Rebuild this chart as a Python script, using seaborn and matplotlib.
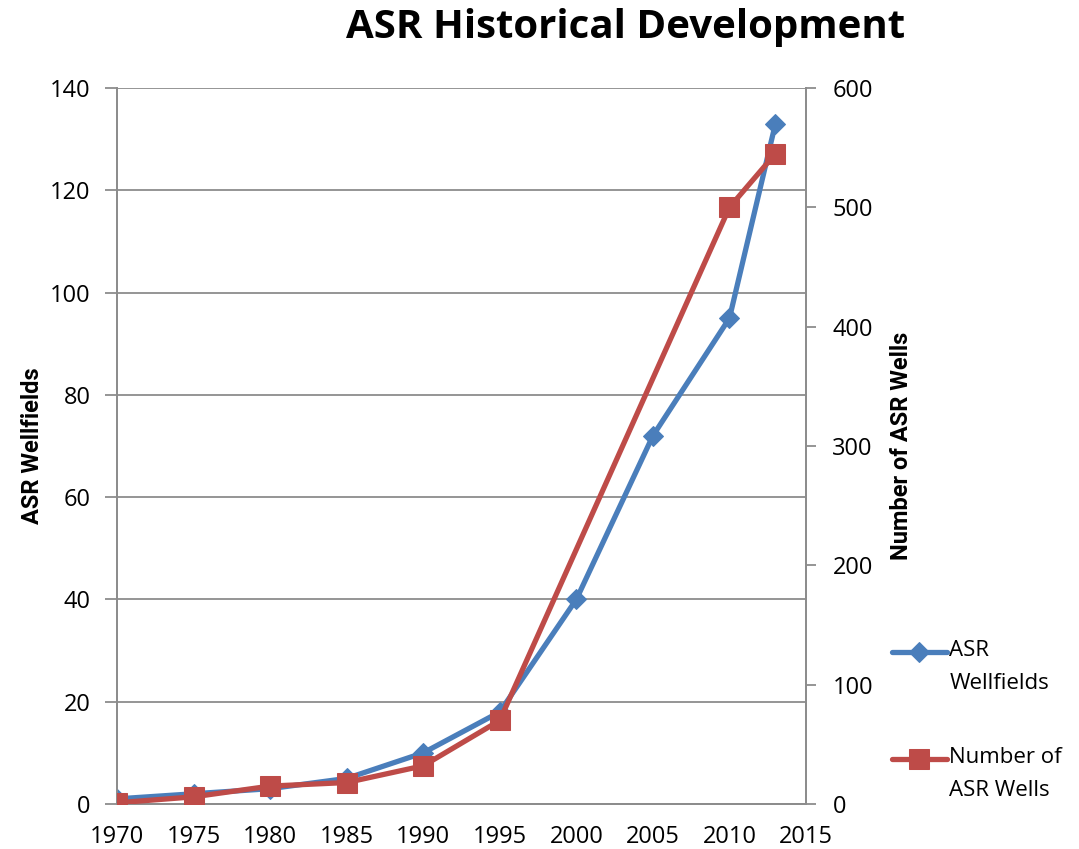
import matplotlib
matplotlib.use("Agg")
import matplotlib.pyplot as plt
import seaborn as sns
import pandas as pd

# Data
years_wellfields = [1970, 1975, 1980, 1985, 1990, 1995, 2000, 2005, 2010, 2013]
wellfields = [1, 2, 3, 5, 10, 18, 40, 72, 95, 133]
years_wells = [1970, 1975, 1980, 1985, 1990, 1995, 2010, 2013]
wells = [1, 6, 15, 18, 32, 70, 500, 545]

x_ticks = [1970, 1975, 1980, 1985, 1990, 1995, 2000, 2005, 2010, 2015]
left_ticks = [0, 20, 40, 60, 80, 100, 120, 140]
right_ticks = [0, 100, 200, 300, 400, 500, 600]

BLUE = "#4A7EBB"
RED = "#BE4B48"
GRID = "#8C8C8C"

sns.set_theme(style="white")
plt.rcParams["font.family"] = ["Open Sans", "DejaVu Sans"]
plt.rcParams["text.color"] = "black"

fig = plt.figure(figsize=(10.79, 8.49), dpi=100)
ax = fig.add_axes([0.1084, 0.053, 0.6386, 0.8433])
ax2 = ax.twinx()

df_wf = pd.DataFrame({"year": years_wellfields, "value": wellfields})
df_w = pd.DataFrame({"year": years_wells, "value": wells})

sns.lineplot(data=df_wf, x="year", y="value", ax=ax, color=BLUE, lw=3.8,
             marker="D", markersize=10, markeredgecolor=BLUE, zorder=3,
             label="ASR\nWellfields", legend=False)
sns.lineplot(data=df_w, x="year", y="value", ax=ax2, color=RED, lw=3.8,
             marker="s", markersize=14, markeredgecolor=RED, zorder=3,
             label="Number of\nASR Wells", legend=False)

ax.set_xlim(1970, 2015)
ax.set_ylim(0, 140)
ax2.set_ylim(0, 600)
ax.set_xticks(x_ticks)
ax.set_yticks(left_ticks)
ax2.set_yticks(right_ticks)

ax.yaxis.grid(True, color=GRID, lw=1.3)
ax.xaxis.grid(False)
ax2.grid(False)

for a in (ax, ax2):
    for side, sp in a.spines.items():
        sp.set_color(GRID)
        sp.set_linewidth(1.3)
    a.spines["top"].set_visible(False)

ax.tick_params(axis="y", which="major", labelsize=17, labelcolor="black",
               length=9, width=1.3, color=GRID, direction="out", pad=10)
ax.tick_params(axis="x", which="major", labelsize=17, labelcolor="black",
               length=5, width=1.3, color=GRID, direction="out", pad=10)
ax2.tick_params(axis="y", labelsize=17, labelcolor="black", length=7, width=1.3,
                color=GRID, direction="out", pad=12)
ax.set_xlabel("")
ax.set_ylabel("ASR Wellfields", fontsize=17, fontweight="bold", color="black",
              family=["Roboto", "DejaVu Sans"], labelpad=4)
ax2.set_ylabel("Number of ASR Wells", fontsize=17, fontweight="bold", color="black",
               family=["Roboto", "DejaVu Sans"], labelpad=12)

fig.text(0.5795, 0.968, "ASR Historical Development", ha="center", va="center",
         fontsize=29, fontweight="bold", color="black")

# Legend: handle sits level with the first line of each two-line label
handles = ax.get_lines()[:1] + ax2.get_lines()[:1]
labels = ["ASR\nWellfields", "Number of\nASR Wells"]
leg = fig.legend(handles, labels, loc="upper left", bbox_to_anchor=(0.818, 0.269),
                 frameon=False, fontsize=16, handlelength=2.5, handletextpad=0.1,
                 handleheight=5.2, labelspacing=1.18, borderaxespad=0,
                 labelcolor="black")
for t in leg.get_texts():
    t.set_linespacing(1.72)

fig.savefig("out.png", dpi=100, facecolor="white")
